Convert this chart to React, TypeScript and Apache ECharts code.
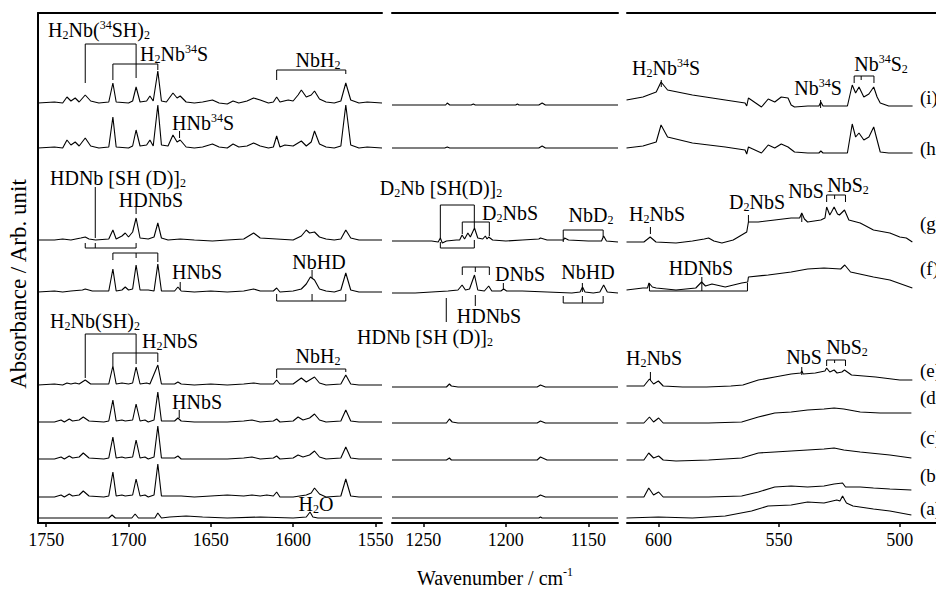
import React, { useEffect, useRef } from "react";
import * as echarts from "echarts";

const FONT = "Liberation Serif";

// ---- axis ticks ----
const ticksLeft = [1750, 1700, 1650, 1600, 1550];
const ticksMid = [1250, 1200, 1150];
const ticksRight = [600, 550, 500];

// ---- traces (a)..(i) and their vertical offsets (arb. units) ----
const traceNames = ["(a)", "(b)", "(c)", "(d)", "(e)", "(f)", "(g)", "(h)", "(i)"];
const traceOffsets = [5, 26, 64, 101, 138, 231, 283, 375, 420];

// ---- left panel, 1755-1546 cm-1: [wavenumber, absorbance] ----
const L_a = [[1755,0],[1740,0],[1725,0],[1712,0],[1710,3],[1708,0],[1698,0],[1696,4],[1694,0],[1684,0],[1682.2,5],[1680,0],[1675,1],[1665,2],[1655,1],[1640,0],[1620,1],[1600,0],[1592,1],[1589.7,6],[1588,1],[1585,0],[1570,0],[1546,0]];
const L_b = [[1755,0],[1745,0],[1741,2],[1739,0],[1736,3],[1734,1],[1730,2],[1727.5,6],[1724,1],[1715,0],[1712,1],[1709.5,25],[1707.5,1],[1704,2],[1702,1],[1697.5,2],[1695.4,18],[1693,1],[1690,2],[1688,0],[1684.5,2],[1682.2,33],[1680,1],[1672,1],[1668,1],[1660,0],[1650,1],[1640,2],[1630,1],[1625,2],[1620,1],[1616,2],[1612,1],[1610,5],[1608,0],[1600,0],[1592,2],[1589,4],[1587,9],[1584,3],[1580,0],[1571,1],[1568,18],[1565,1],[1560,0],[1546,0]];
const L_c = [[1755,0],[1745,0],[1741,2],[1739,0],[1736,3],[1734,1],[1730,2],[1727.5,6],[1724,1],[1715,0],[1712,1],[1709.5,22],[1707.5,1],[1704,2],[1702,1],[1697.5,2],[1695.4,19],[1693,1],[1690,2],[1688,0],[1684.5,2],[1682.2,33],[1680,1],[1672,1],[1670,3],[1668,0],[1660,0],[1650,0],[1640,0],[1630,1],[1625,2],[1620,0],[1612,1],[1610,3],[1608,0],[1600,1],[1597,4],[1594,2],[1590,4],[1587,8],[1584,2],[1580,0],[1571,1],[1568,12],[1565,1],[1560,0],[1546,0]];
const L_d = [[1755,0],[1745,0],[1741,2],[1739,0],[1736,3],[1734,1],[1730,2],[1727.5,5],[1724,1],[1715,0],[1712,1],[1709.5,22],[1707.5,1],[1704,2],[1702,1],[1697.5,2],[1695.4,18],[1693,1],[1690,2],[1688,0],[1684.5,2],[1682.2,30],[1680,1],[1672,1],[1670,4],[1668,1],[1660,0],[1650,0],[1640,0],[1630,1],[1625,2],[1620,0],[1612,1],[1610,3],[1608,0],[1600,1],[1597,5],[1594,2],[1590,4],[1587,8],[1584,2],[1580,0],[1571,1],[1568,12],[1565,1],[1560,0],[1546,0]];
const L_e = [[1755,0],[1745,1],[1740,0],[1737.4,2],[1735,1],[1732.4,2],[1730,1],[1726.3,5],[1723,1],[1712,1],[1709.5,19],[1707.5,1],[1704,2],[1700,1],[1697.5,2],[1695.4,18],[1693,1],[1689,2],[1687,1],[1682.2,20],[1680,1],[1672,1],[1670,3],[1668,1],[1660,0],[1650,1],[1640,0],[1630,1],[1624,2],[1620,1],[1612,1],[1610,5],[1608,1],[1600,1],[1595,7],[1592,3],[1589,6],[1587,8],[1584,2],[1580,0],[1571,1],[1568,10],[1565,1],[1560,0],[1546,0]];
const L_f = [[1755,0],[1745,1],[1740,0],[1735,1],[1728,2],[1726.3,3],[1722,1],[1712,1],[1709.5,23],[1707.5,1],[1704,2],[1702,5],[1700,2],[1697.5,3],[1695.4,27],[1693,2],[1688,2],[1684.5,1],[1682.2,28],[1680,1],[1672,1],[1670,5],[1668,1],[1660,0],[1650,1],[1640,0],[1630,1],[1624,3],[1620,1],[1612,1],[1610,4],[1608,0],[1600,1],[1595,3],[1592,8],[1589.5,15],[1587,12],[1584,3],[1580,1],[1575,0],[1571,2],[1568,19],[1565,2],[1560,0],[1546,0]];
const L_g = [[1755,0],[1745,0],[1740,1],[1735,0],[1729,2],[1726.3,3],[1724,1],[1720,0],[1712,1],[1709.5,10],[1707.5,1],[1704,4],[1702,7],[1700,3],[1697.5,8],[1695.4,22],[1693,2],[1688,1],[1684.5,3],[1682.2,17],[1680,2],[1676,0],[1668.6,1],[1660,0],[1649,-1],[1640,0],[1630,1],[1624,7],[1620,2],[1610,1],[1600,0],[1595,4],[1592,10],[1590,7],[1587,8],[1584,3],[1580,1],[1575,0],[1571,1],[1568,10],[1565,2],[1560,0],[1546,0]];
const L_h = [[1755,0],[1745,1],[1740,0],[1737.4,8],[1735,3],[1732.4,6],[1730,2],[1726.3,10],[1723,2],[1718,0],[1712,1],[1709.5,31],[1707.5,1],[1700,0],[1697.5,2],[1695.4,18],[1693,2],[1689,3],[1687,8],[1685,2],[1682.2,43],[1680,3],[1676,2],[1673,13],[1670.5,6],[1668.6,8],[1665,1],[1660,0],[1655,1],[1649,4],[1645,1],[1640,0],[1636.5,4],[1633,1],[1628,2],[1624,5],[1620,2],[1615,0],[1612,1],[1610,12],[1608,1],[1605,3],[1600,2],[1597,5],[1595,7],[1592,2],[1589,6],[1587,17],[1584,4],[1580,1],[1575,0],[1571,2],[1568,43],[1565,3],[1560,0],[1555,1],[1546,0]];
const L_i = [[1755,0],[1745,1],[1740,0],[1737.4,6],[1735,2],[1732.4,5],[1730,1],[1726.3,8],[1723,2],[1718,0],[1712,1],[1709.5,20],[1707.5,1],[1700,0],[1697.5,2],[1695.4,16],[1693,1],[1689,2],[1687,7],[1685,2],[1682.2,32],[1680,2],[1677,1],[1673,10],[1670.5,5],[1668.6,7],[1665,1],[1660,0],[1655,1],[1649,3],[1645,0],[1640,-1],[1636.5,2],[1633,0],[1628,2],[1624,5],[1620,3],[1615,0],[1612,1],[1610,6],[1608,1],[1603,3],[1600,2],[1597,8],[1595,13],[1592,6],[1589,8],[1587,12],[1584,4],[1580,1],[1575,0],[1571,2],[1568,20],[1565,3],[1560,0],[1555,1],[1546,0]];

// ---- middle panel, 1269-1132 cm-1 ----
const M_a = [[1269,0],[1180,0],[1179,1],[1178,0],[1132,0]];
const M_b = [[1269,0],[1181,0],[1179,2],[1176,0],[1132,0]];
const M_c = [[1269,-1],[1236,-1],[1234.2,1],[1233,-1],[1181,-1],[1179,2],[1175,-1],[1132,-1]];
const M_d = [[1269,-1],[1236,-1],[1234.2,3],[1232.5,0],[1229,-1],[1181,-1],[1179,1],[1176,-1],[1132,-1]];
const M_e = [[1269,-2],[1236,-2],[1234.2,1],[1233,-1],[1229,-2],[1181,-2],[1179,0],[1176,-2],[1132,-2]];
const M_f = [[1269,-1],[1255,-1],[1245,0],[1235,1],[1229,2],[1226.5,7],[1224.5,2],[1222,3],[1219,17],[1217,2],[1213,1],[1210.4,6],[1208.5,1],[1203,1],[1201.3,3],[1199.5,1],[1190,1],[1175,0],[1160,-1],[1155,0],[1153.5,5],[1152,0],[1147,-1],[1143,0],[1140.7,7],[1138.5,0],[1132,-1]];
const M_g = [[1269,-1],[1245,-1],[1241,-2],[1239.7,2],[1238.5,-3],[1236,-1],[1230,0],[1228,0],[1226.5,5],[1225,1],[1223,7],[1221.5,3],[1219,12],[1217,2],[1214,1],[1212.4,4],[1211.4,1],[1210.4,3],[1208,0],[1200,-1],[1190,0],[1180,1],[1179,2],[1175,0],[1165,0],[1164.4,2],[1162,0],[1150,-1],[1142,-1],[1140.7,4],[1139,-1],[1132,-2]];
const M_h = [[1269,0],[1237,0],[1235.5,1],[1234,0],[1180,0],[1178,2],[1176,0],[1132,0]];
const M_i = [[1269,-2],[1240,-2],[1236.5,-2],[1235.5,0],[1234,-2],[1221,-2],[1219.7,-1],[1218.5,-2],[1194,-2],[1193,-1],[1192,-2],[1180,-2],[1178,0],[1176,-2],[1132,-2]];

// ---- right panel, 613-485 cm-1 ----
const R_a = [[613.2,0],[600,1],[585.9,0],[572.3,2],[561.4,7],[554.6,12],[545,13],[538.2,16],[531.4,15],[526.1,18],[524.8,17],[523.7,22],[522.8,18],[522.1,15],[519.4,12],[510.9,9],[504.1,7],[495.2,3]];
const R_b = [[613.2,0],[606,0],[604,9],[602,2],[599.9,5],[598,0],[592.7,0],[579.2,0],[565.5,1],[558.6,5],[551.8,10],[545,11],[538.2,10],[531.4,11],[527.2,13],[523.7,14],[522.5,10],[520,10],[516.4,10],[510.9,9],[504.1,8],[495.2,7]];
const R_c = [[613.2,-1],[606,-1],[604,6],[602,1],[599.9,3],[598,-1],[592.7,-2],[579.2,-1],[565.5,1],[558.6,6],[551.8,7],[545,8],[538.2,9],[531.4,10],[527.2,11],[523.2,9],[516.4,7],[504.1,4],[495.2,1]];
const R_d = [[613.2,-1],[606,-1],[603.7,5],[602,0],[599.9,4],[598,-1],[592.7,-1],[579.2,-1],[565.5,0],[558.6,5],[551.8,9],[545,10],[538.2,12],[531.4,13],[527.2,14],[523.2,13],[516.4,10],[508.2,9],[495.2,9]];
const R_e = [[613.2,-1],[606,-1],[603.7,6],[602,1],[600,4],[598,-1],[590,-2],[580,-2],[570,-1],[565,0],[558.6,5],[551.8,8],[545,11],[541,12],[540.6,14],[540,11],[535,12],[531,14],[530.3,17],[529,13],[527.2,15],[526,12],[524,13],[522.9,15],[520,10],[510,8],[500,5],[494.8,5]];
const R_f = [[613.2,2],[606.4,4],[604.5,4],[603.9,9],[602.5,5],[600.9,4],[592.7,2],[584.5,4],[582.1,10],[580.5,6],[577.8,8],[572.3,5],[565.5,9],[563,10],[562.7,15],[554.5,17],[545,20],[538.2,23],[531.4,24],[524.5,23],[522.8,27],[520.4,20],[510.9,15],[504.1,12],[494.8,4]];
const R_g = [[613.2,-2],[606,-2],[603.4,3],[601,-2],[592.7,-3],[585.9,-1],[581,1],[579.2,2],[577,-1],[573.7,-3],[569,0],[565.5,5],[563.4,8],[562.7,18],[558.6,18],[551.8,20],[545,22],[541.5,22],[540.6,27],[539.5,21],[538.2,18],[532.7,20],[531,22],[530.3,33],[529,25],[528.3,28],[527.2,33],[525.8,26],[525,25],[522.9,30],[521.1,20],[516.4,17],[510.9,10],[504.1,7],[500,3],[497.3,2],[494.8,-2]];
const R_h = [[613.2,0],[606.4,2],[600.9,6],[598.9,23],[596.2,11],[585.9,5],[572.3,1],[564.1,-2],[563.4,-6],[562.7,1],[557.3,-5],[554.5,3],[551.8,0],[549.1,4],[546.3,1],[543.6,-4],[538.1,-5],[533.5,-5],[532.7,-3],[531.8,-5],[521.7,-5],[519.7,24],[518.3,11],[516.9,15],[514.9,8],[512.8,11],[510.8,21],[509.4,8],[508.1,-4],[504.6,-5],[494.7,-5]];
const R_i = [[613.2,3],[606.4,6],[600.9,11],[598.9,21],[596.2,13],[585.9,8],[572.3,3],[564.1,0],[563.4,-3],[562.7,5],[557.3,-4],[554.5,4],[551.8,1],[549.1,6],[546.3,5],[545,-2],[543.6,-4],[538.1,-3],[533.5,-3],[532.7,1],[531.8,-3],[521.7,-3],[519.7,18],[518.3,10],[516.9,16],[514.9,6],[512.8,9],[510.8,16],[509.4,6],[508.1,0],[504.6,-3],[494.7,-3]];

const leftTraces = [L_a, L_b, L_c, L_d, L_e, L_f, L_g, L_h, L_i];
const midTraces = [M_a, M_b, M_c, M_d, M_e, M_f, M_g, M_h, M_i];
const rightTraces = [R_a, R_b, R_c, R_d, R_e, R_f, R_g, R_h, R_i];

// ---- annotations: label text, [x px, y px] of label centre ----
const labels: [number, string, number, number][] = [
  [0, "H{s|2}Nb({p|34}SH){s|2}", 99, 30],
  [0, "H{s|2}Nb{p|34}S", 174, 54],
  [0, "NbH{s|2}", 318, 60],
  [0, "HNb{p|34}S", 203, 123],
  [0, "HDNb [SH (D)]{s|2}", 118, 178],
  [0, "HDNbS", 151, 200],
  [0, "HNbS", 197, 272],
  [0, "NbHD", 319, 262],
  [0, "H{s|2}Nb(SH){s|2}", 95, 321],
  [0, "H{s|2}NbS", 170, 341],
  [0, "NbH{s|2}", 318, 356],
  [0, "HNbS", 197, 402],
  [0, "H{s|2}O", 316, 504],
  [1, "D{s|2}Nb [SH(D)]{s|2}", 441, 188],
  [1, "D{s|2}NbS", 510, 213],
  [1, "NbD{s|2}", 591, 215],
  [1, "DNbS", 520, 274],
  [1, "NbHD", 588, 272],
  [1, "HDNbS", 489, 316],
  [1, "HDNb [SH (D)]{s|2}", 425, 337],
  [2, "H{s|2}Nb{p|34}S", 666, 68],
  [2, "Nb{p|34}S", 818, 88],
  [2, "Nb{p|34}S{s|2}", 881, 64],
  [2, "H{s|2}NbS", 657, 214],
  [2, "D{s|2}NbS", 757, 202],
  [2, "NbS", 806, 191],
  [2, "NbS{s|2}", 848, 185],
  [2, "HDNbS", 701, 268],
  [2, "H{s|2}NbS", 654, 358],
  [2, "NbS", 804, 357],
  [2, "NbS{s|2}", 847, 347],
];
const traceLabelY = [508, 475, 437, 397, 370, 268, 223, 148, 97];

// brackets: panel, points as [wavenumber, y px]
const brackets: [number, number[][]][] = [
  [0, [[1726.3, 83], [1726.3, 44], [1695.4, 44], [1695.4, 78]]],
  [0, [[1709.5, 80], [1709.5, 64], [1682.2, 64], [1682.2, 70]]],
  [0, [[1610, 80], [1610, 70], [1568, 70], [1568, 74]]],
  [0, [[1669, 131], [1669, 138]]],
  [0, [[1720.2, 187], [1720.2, 238]]],
  [0, [[1726.3, 243], [1726.3, 248], [1695.4, 248], [1695.4, 243]]],
  [0, [[1720.2, 243], [1720.2, 248]]],
  [0, [[1695.4, 207], [1695.4, 214]]],
  [0, [[1709.5, 260], [1709.5, 253], [1682.2, 253], [1682.2, 262]]],
  [0, [[1695.4, 253], [1695.4, 258]]],
  [0, [[1668.6, 282], [1668.6, 290]]],
  [0, [[1588.5, 270], [1588.5, 278]]],
  [0, [[1610, 294], [1610, 301], [1568, 301], [1568, 294]]],
  [0, [[1588.5, 301], [1588.5, 294]]],
  [0, [[1726.3, 378], [1726.3, 334], [1695.4, 334], [1695.4, 364]]],
  [0, [[1709.5, 366], [1709.5, 353], [1682.2, 353], [1682.2, 362]]],
  [0, [[1610, 378], [1610, 369], [1568, 369], [1568, 372]]],
  [0, [[1669.2, 410], [1669.2, 418]]],
  [1, [[1239.7, 238], [1239.7, 205], [1219.1, 205], [1219.1, 228]]],
  [1, [[1239.7, 242], [1239.7, 248], [1219.1, 248], [1219.1, 240]]],
  [1, [[1226.4, 234], [1226.4, 222], [1210, 222], [1210, 236]]],
  [1, [[1165.2, 242], [1165.2, 230], [1141, 230], [1141, 237]]],
  [1, [[1201.5, 283], [1201.5, 290]]],
  [1, [[1226.4, 275], [1226.4, 267], [1210, 267], [1210, 275]]],
  [1, [[1218.5, 267], [1218.5, 272]]],
  [1, [[1153.6, 283], [1153.6, 292]]],
  [1, [[1165.2, 296], [1165.2, 303], [1141, 303], [1141, 296]]],
  [1, [[1153.6, 303], [1153.6, 296]]],
  [1, [[1218.5, 295], [1218.5, 306]]],
  [1, [[1236.1, 298], [1236.1, 322]]],
  [2, [[598.8, 80], [598.8, 87]]],
  [2, [[532.8, 100], [532.8, 108]]],
  [2, [[518.9, 83], [518.9, 76], [510.7, 76], [510.7, 83]]],
  [2, [[516, 76], [516, 80]]],
  [2, [[603.3, 227], [603.3, 234]]],
  [2, [[562.7, 215], [562.7, 222]]],
  [2, [[540.6, 214], [540.6, 222]]],
  [2, [[530.3, 202], [530.3, 195], [522.5, 195], [522.5, 202]]],
  [2, [[527, 195], [527, 199]]],
  [2, [[582, 277], [582, 285]]],
  [2, [[603.7, 283], [603.7, 291], [563.1, 291], [563.1, 283]]],
  [2, [[582, 291], [582, 285]]],
  [2, [[603.3, 372], [603.3, 380]]],
  [2, [[540.6, 367], [540.6, 375]]],
  [2, [[530.3, 366], [530.3, 360], [522.5, 360], [522.5, 366]]],
  [2, [[527, 360], [527, 363]]],
];

const RICH = {
  s: { fontSize: 12, fontFamily: FONT, fill: "#000", verticalAlign: "bottom" },
  p: { fontSize: 12, fontFamily: FONT, fill: "#000", verticalAlign: "top" },
};

const panels = [
  { left: 38, width: 344, min: 1546, max: 1755, ticks: ticksLeft, traces: leftTraces },
  { left: 392, width: 226, min: 1132, max: 1269, ticks: ticksMid, traces: midTraces },
  { left: 627, width: 312, min: 485, max: 613, ticks: ticksRight, traces: rightTraces },
];
const TOP = 13;
const H = 510;

export default function App() {
  const ref = useRef<HTMLDivElement>(null);
  useEffect(() => {
    if (!ref.current) return;
    const chart = echarts.init(ref.current, null, { renderer: "svg" });
    const grid = panels.map((p) => ({ left: p.left, width: p.width, top: TOP, height: H }));
    const xBottom = panels.map((p, i) => ({
      type: "value", gridIndex: i, min: p.min, max: p.max, inverse: true, position: "bottom",
      splitLine: { show: false },
      axisLine: { show: true, onZero: false, lineStyle: { color: "#000", width: 2 } },
      axisTick: { show: true, customValues: p.ticks, length: 4, lineStyle: { color: "#000", width: 1.5 } },
      axisLabel: {
        show: true, customValues: p.ticks, color: "#000", fontFamily: FONT, fontSize: 18, margin: 8,
        formatter: (v: number) => String(v),
      },
    }));
    const xTop = panels.map((p, i) => ({
      type: "value", gridIndex: i, min: p.min, max: p.max, inverse: true, position: "top",
      splitLine: { show: false },
      axisLine: { show: true, onZero: false, lineStyle: { color: "#000", width: 2 } },
      axisTick: { show: false }, axisLabel: { show: false },
    }));
    const yAxes = panels.map((p, i) => ({
      type: "value", gridIndex: i, min: 0, max: H, show: i === 0,
      splitLine: { show: false },
      axisLine: { show: i === 0, onZero: false, lineStyle: { color: "#000", width: 2 } },
      axisTick: { show: false }, axisLabel: { show: false },
    }));
    const series: any[] = [];
    panels.forEach((p, pi) => {
      p.traces.forEach((tr, ti) => {
        series.push({
          type: "line", xAxisIndex: pi, yAxisIndex: pi, name: traceNames[ti],
          data: tr.map(([w, v]) => [w, traceOffsets[ti] + v]),
          showSymbol: false, symbol: "none", silent: true, smooth: false,
          lineStyle: { color: "#000", width: 1.1 },
        });
      });
    });
    chart.setOption({
      animation: false,
      grid, xAxis: [...xBottom, ...xTop], yAxis: yAxes, series,
    });

    const gfx: any[] = [];
    brackets.forEach(([pi, pts]) => {
      const points = pts.map(([w, y]) => [chart.convertToPixel({ xAxisIndex: pi }, w) as number, y]);
      gfx.push({ type: "polyline", silent: true, shape: { points }, style: { stroke: "#000", lineWidth: 1, fill: null } });
    });
    labels.forEach(([, text, x, y]) => {
      gfx.push({
        type: "text", x, y, silent: true,
        style: { text, fill: "#000", fontFamily: FONT, fontSize: 20, lineHeight: 22, align: "center", verticalAlign: "middle", rich: RICH },
      });
    });
    traceNames.forEach((n, i) => {
      gfx.push({
        type: "text", x: 920, y: traceLabelY[i], silent: true,
        style: { text: n, fill: "#000", fontFamily: FONT, fontSize: 19, align: "left", verticalAlign: "middle" },
      });
    });
    gfx.push({
      type: "text", x: 495, y: 578, silent: true,
      style: { text: "Wavenumber / cm{p|-1}", fill: "#000", fontFamily: FONT, fontSize: 20, lineHeight: 24, align: "center", verticalAlign: "middle", rich: RICH },
    });
    gfx.push({
      type: "text", x: 18, y: 284, rotation: Math.PI / 2, silent: true,
      style: { text: "Absorbance / Arb. unit", fill: "#000", fontFamily: FONT, fontSize: 23, align: "center", verticalAlign: "middle" },
    });
    chart.setOption({ graphic: gfx });
    return () => chart.dispose();
  }, []);
  return (
    <div ref={ref} style={{ position: "absolute", left: 0, top: 0, width: 936, height: 590, background: "#fff" }} />
  );
}
